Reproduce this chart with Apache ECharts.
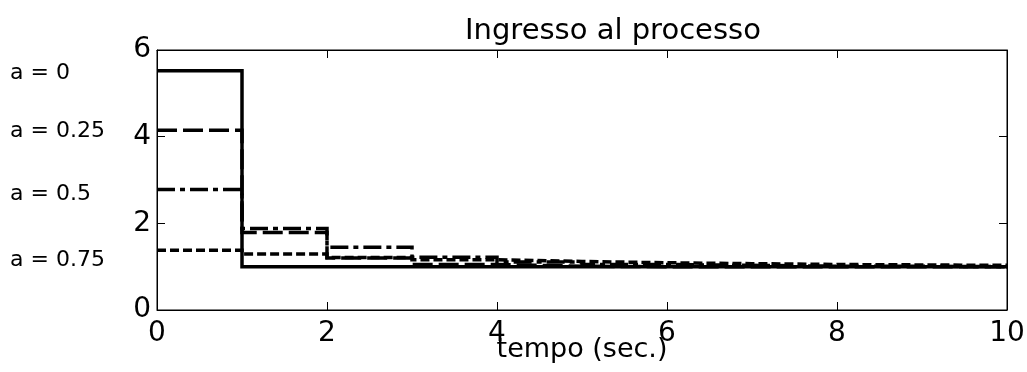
<!DOCTYPE html>
<html>
<head>
<meta charset="utf-8">
<script src="https://cdn.jsdelivr.net/npm/echarts@6/dist/echarts.min.js"></script>
<style>html,body{margin:0;padding:0;background:#fff}#c{width:1027px;height:372px}</style>
</head>
<body>
<div id="c"></div>
<script>
// time instants (sec.)
var tempo = [0,1,2,3,4,5,6,7,8,9,10];
// process input for each value of a (held between instants)
var u_a0   = [5.52,1.00,1.00,1.00,1.00,1.00,1.00,1.00,1.00,1.00,1.00];
var u_a025 = [4.15,1.79,1.20,1.05,1.01,1.00,1.00,1.00,1.00,1.00,1.00];
var u_a05  = [2.78,1.88,1.45,1.22,1.11,1.05,1.03,1.01,1.01,1.00,1.00];
var u_a075 = [1.38,1.29,1.21,1.16,1.12,1.09,1.07,1.05,1.04,1.03,1.02];
var seriesNames = ['a = 0','a = 0.25','a = 0.5','a = 0.75'];
var xTicks = [0,2,4,6,8,10];
var yTicks = [0,2,4,6];

var FONT = '"DejaVu Sans", sans-serif';
function pairs(v){ return tempo.map(function(t,i){ return [t, v[i]]; }); }

var chart = echarts.init(document.getElementById('c'), null, {renderer:'canvas'});
var styles = [
  {type:'solid', width:3.5},
  {type:[20,6], width:3.5},
  {type:[18,5,5,5], width:3.5},
  {type:[9,4], width:3.5}
];
var data = [u_a0,u_a025,u_a05,u_a075];
var labelY = [75,133,196,262];

function axisBase(min,max){
  return {
    min: min, max: max, interval: 2, type:'value',
    axisLine:{show:true, onZero:false, lineStyle:{color:'#000', width:1}},
    axisTick:{show:true, inside:true, length:8, lineStyle:{color:'#000'}},
    splitLine:{show:false}
  };
}

chart.setOption({
  animation:false,
  backgroundColor:'#fff',
  title:{text:'Ingresso al processo', left:460, top:12,
    textStyle:{fontFamily:FONT, fontSize:29, fontWeight:'normal', color:'#000'}},
  grid:{left:157, right:20, top:50, bottom:62, show:true, borderColor:'#000', borderWidth:1,
    backgroundColor:'transparent', containLabel:false, outerBoundsMode:'none'},
  xAxis:[
    Object.assign(axisBase(0,10), {position:'bottom',
      name:'tempo (sec.)', nameLocation:'middle', nameGap:26, nameMoveOverlap:false,
      nameTextStyle:{fontFamily:FONT, fontSize:27, color:'#000', verticalAlign:'top'},
      axisLabel:{show:true, margin:10, fontFamily:FONT, fontSize:28, color:'#000',
        formatter:function(v){ return xTicks.indexOf(v)>=0 ? String(v) : ''; }}}),
    Object.assign(axisBase(0,10), {position:'top', axisLabel:{show:false}})
  ],
  yAxis:[
    Object.assign(axisBase(0,6), {position:'left',
      axisLabel:{show:true, margin:6, fontFamily:FONT, fontSize:28, color:'#000',
        formatter:function(v){ return yTicks.indexOf(v)>=0 ? String(v) : ''; }}}),
    Object.assign(axisBase(0,6), {position:'right', axisLabel:{show:false}})
  ],
  series: data.map(function(d,i){
    return {
      name: seriesNames[i], type:'line', step:'end', xAxisIndex:0, yAxisIndex:0,
      data: pairs(d), showSymbol:false, symbol:'none', z: 10-i,
      lineStyle:{color:'#000', width:styles[i].width, type:styles[i].type, cap:'butt', join:'miter'}
    };
  }),
  graphic: seriesNames.map(function(n,i){
    return {type:'text', left:10, top:labelY[i]-13,
      style:{text:n, fontFamily:FONT, fontSize:22, fill:'#000'}};
  })
});
</script>
</body>
</html>
